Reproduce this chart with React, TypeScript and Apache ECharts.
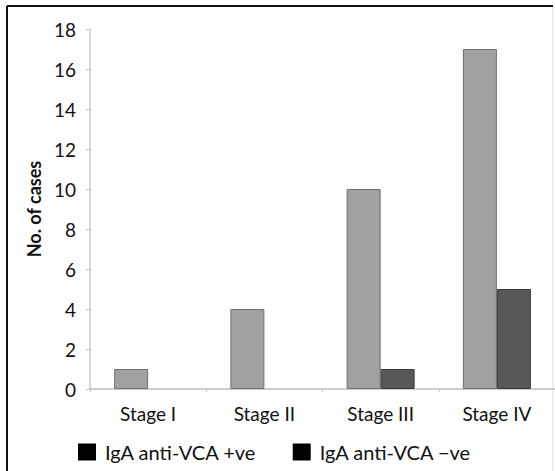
import React, { useEffect, useRef } from "react";
import * as echarts from "echarts";

const categories = ["Stage I", "Stage II", "Stage III", "Stage IV"];
const positiveName = "IgA anti-VCA +ve";
const negativeName = "IgA anti-VCA \u2212ve";
const positiveValues = [1, 4, 10, 17];
const negativeValues = [0, 0, 1, 5];
const yAxisName = "No. of cases";

const FONT = "Lato, 'Open Sans', sans-serif";

// zero-height bars are not drawn in the reference
const toBarData = (arr: number[]) => arr.map((v) => (v === 0 ? "-" : v));

export default function App() {
  const ref = useRef<HTMLDivElement>(null);
  useEffect(() => {
    if (!ref.current) return;
    const chart = echarts.init(ref.current, undefined, { renderer: "svg" });
    chart.setOption({
      animation: false,
      backgroundColor: "#ffffff",
      textStyle: { fontFamily: FONT },
      grid: { left: 90, top: 29, height: 360, width: 471, containLabel: false },
      xAxis: {
        type: "category",
        data: categories,
        axisLine: { show: true, lineStyle: { color: "#bdbdbd", width: 1.5 } },
        axisTick: { show: true, length: 3, lineStyle: { color: "#c8c8c8" } },
        axisLabel: { color: "#111", fontSize: 19, fontFamily: FONT, margin: 15 },
      },
      yAxis: {
        type: "value",
        min: 0,
        max: 18,
        interval: 2,
        name: yAxisName,
        nameLocation: "middle",
        nameGap: 44,
        nameTextStyle: { color: "#111", fontSize: 18, fontWeight: "bold", fontFamily: FONT },
        axisLine: { show: true, lineStyle: { color: "#c8c8c8", width: 1.5 } },
        axisTick: { show: true, length: 4, lineStyle: { color: "#c8c8c8" } },
        axisLabel: { color: "#111", fontSize: 19, fontFamily: FONT, margin: 14 },
        splitLine: { show: false },
      },
      legend: {
        left: 73,
        top: 437,
        itemWidth: 18,
        itemHeight: 17,
        itemGap: 36,
        icon: "rect",
        itemStyle: { color: "#000", borderWidth: 0 },
        textStyle: { color: "#111", fontSize: 20, fontFamily: FONT, padding: [0, 0, 0, 4] },
        data: [
          { name: positiveName, itemStyle: { color: "#000", borderWidth: 0 } },
          { name: negativeName, itemStyle: { color: "#000", borderWidth: 0 } },
        ],
      },
      series: [
        {
          name: positiveName,
          type: "bar",
          data: toBarData(positiveValues),
          barWidth: 34,
          barGap: "0%",
          itemStyle: { color: "#a1a1a1", borderColor: "#6f6f6f", borderWidth: 1 },
        },
        {
          name: negativeName,
          type: "bar",
          data: toBarData(negativeValues),
          barWidth: 34,
          itemStyle: { color: "#585858", borderColor: "#3a3a3a", borderWidth: 1 },
        },
      ],
      graphic: [
        { type: "line", shape: { x1: 7, y1: 6, x2: 553, y2: 6 }, style: { stroke: "#111", lineWidth: 2 } },
        { type: "line", shape: { x1: 7, y1: 6, x2: 7, y2: 471 }, style: { stroke: "#111", lineWidth: 2 } },
        { type: "line", shape: { x1: 553, y1: 8, x2: 553, y2: 471 }, style: { stroke: "#dddddd", lineWidth: 1 } },
      ],
    });
    return () => chart.dispose();
  }, []);
  return <div ref={ref} style={{ width: 555, height: 471, position: "absolute", left: 0, top: 0 }} />;
}
